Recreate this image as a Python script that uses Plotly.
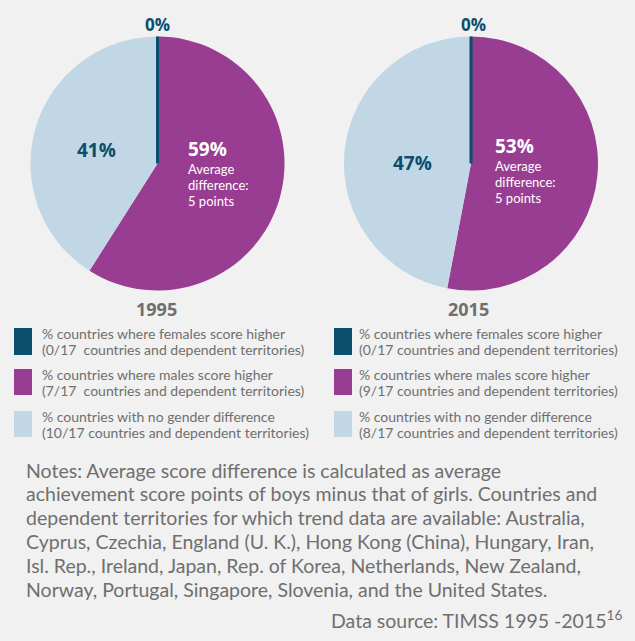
import plotly.graph_objects as go

W, H = 635, 641

# ---- data ----
years = ["1995", "2015"]
categories = ["females score higher", "males score higher", "no gender difference"]
female_pct = [0, 0]
male_pct = [59, 53]
nodiff_pct = [41, 47]
avg_diff_points = [5, 5]
female_counts = ["0/17", "0/17"]
male_counts = ["7/17", "9/17"]
nodiff_counts = ["10/17", "8/17"]

notes_lines = [
    "Notes: Average score difference is calculated as average",
    "achievement score points of boys minus that of girls. Countries and",
    "dependent territories for which trend data are available: Australia,",
    "Cyprus, Czechia, England (U. K.), Hong Kong (China), Hungary, Iran,",
    "Isl. Rep., Ireland, Japan, Rep. of Korea, Netherlands, New Zealand,",
    "Norway, Portugal, Singapore, Slovenia, and the United States.",
]
source_text = "Data source: TIMSS 1995 -2015<sup>16</sup>"

# ---- style ----
C_DARK = "#0b4e6d"
C_PURPLE = "#993d92"
C_LIGHT = "#c1d7e5"
BG = "#f1f1f1"
GRAY = "#6f6f6f"
FONT = "Open Sans"
FONT2 = "Lato"

def px(x):
    return x / W

def py(y):
    return 1 - y / H

centers = [(157.5, 163.5), (471.0, 163.5)]
R = 127

fig = go.Figure()
for i, (cx, cy) in enumerate(centers):
    fig.add_trace(go.Pie(
        labels=categories,
        values=[female_pct[i], male_pct[i], nodiff_pct[i]],
        marker=dict(colors=[C_DARK, C_PURPLE, C_LIGHT], line=dict(width=0)),
        sort=False, direction="clockwise", rotation=0,
        textinfo="none", hoverinfo="label+percent",
        showlegend=False,
        domain=dict(x=[px(cx - R), px(cx + R)], y=[py(cy + R), py(cy - R)]),
    ))
    # zero-width "females" boundary at 12 o'clock
    fig.add_shape(type="line", xref="paper", yref="paper",
                  x0=px(cx), x1=px(cx), y0=py(cy), y1=py(cy - R),
                  line=dict(color=C_DARK, width=3))

ann = []
def A(x, y, text, size, color, bold=False, xanchor="center", yanchor="middle", font=FONT):
    t = f"<b>{text}</b>" if bold else text
    ann.append(dict(x=px(x), y=py(y), xref="paper", yref="paper", text=t,
                    showarrow=False, xanchor=xanchor, yanchor=yanchor,
                    font=dict(family=font, size=size, color=color)))

# pie labels
lab_pos = [
    dict(zero=(157, 24), nod=(96, 150), male=(186, 149), avg=169, year=(156, 309)),
    dict(zero=(473, 24), nod=(412, 163), male=(493, 146), avg=166, year=(468, 309)),
]
for i, p in enumerate(lab_pos):
    A(*p["zero"], f"{female_pct[i]}%", 17, C_DARK, bold=True)
    A(*p["nod"], f"{nodiff_pct[i]}%", 19, C_DARK, bold=True)
    A(p["male"][0], p["male"][1], f"{male_pct[i]}%", 19, "white", bold=True, xanchor="left")
    mx = p["male"][0]
    for k, line in enumerate(["Average", "difference:", f"{avg_diff_points[i]} points"]):
        A(mx, p["avg"] + 16 * k, line, 13, "white", xanchor="left", font=FONT2)
    A(*p["year"], years[i], 18, GRAY, bold=True)

# legends
leg_x = [(14, 40), (334, 357)]
row_y = [(328, 355), (369, 395), (411, 437)]
for i in range(2):
    texts = [
        ("% countries where females score higher",
         f"({female_counts[i]}{'  ' if i == 0 else ' '}countries and dependent territories)"),
        ("% countries where males score higher",
         f"({male_counts[i]}{'  ' if i == 0 else ' '}countries and dependent territories)"),
        ("% countries with no gender difference",
         f"({nodiff_counts[i]} countries and dependent territories)"),
    ]
    cols = [C_DARK, C_PURPLE, C_LIGHT]
    sx, tx = leg_x[i]
    for r, (y0, y1) in enumerate(row_y):
        fig.add_shape(type="rect", xref="paper", yref="paper",
                      x0=px(sx), x1=px(sx + 18), y0=py(y1), y1=py(y0),
                      fillcolor=cols[r], line=dict(width=0))
        ym = (y0 + y1) / 2
        A(tx, ym - 8, texts[r][0], 14, GRAY, xanchor="left", font=FONT2)
        A(tx, ym + 8, texts[r][1], 14, GRAY, xanchor="left", font=FONT2)

# notes
for k, line in enumerate(notes_lines):
    A(24, 470 + 23.8 * k, line, 19.5, GRAY, xanchor="left", font=FONT2)
A(624, 619, source_text, 19.5, GRAY, xanchor="right", font=FONT2)

fig.update_layout(
    width=W, height=H,
    margin=dict(l=0, r=0, t=0, b=0),
    paper_bgcolor=BG, plot_bgcolor=BG,
    annotations=ann,
)
fig.write_html("out.html", config={"displayModeBar": False},
               post_script="document.body.style.margin='0px';document.body.style.background='%s';" % BG)
